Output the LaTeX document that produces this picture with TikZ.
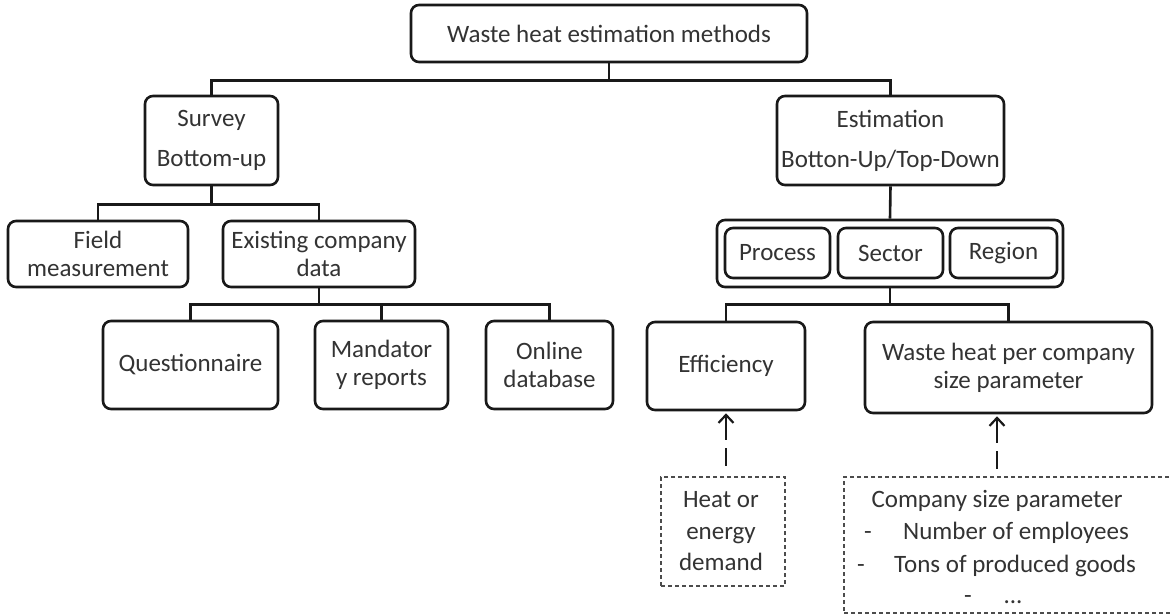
\documentclass[tikz,border=0pt]{standalone}
\usepackage{fontspec}
\setmainfont{Carlito}
\usetikzlibrary{arrows.meta}
\begin{document}
\begin{tikzpicture}[x=1pt,y=-1pt,
  box/.style={draw=black!90, line width=2.6pt, rounded corners=8pt, align=center,
    inner sep=0pt, text=black!80, font=\fontsize{25}{28}\selectfont},
  tallbox/.style={box, font=\fontsize{25}{40}\selectfont},
  conn/.style={draw=black!90, line width=2.6pt},
  note/.style={draw=black!70, line width=1.1pt, dash pattern=on 4pt off 3pt},
  notetext/.style={inner sep=0pt, text=black!80, font=\fontsize{25}{32}\selectfont},
  dasharr/.style={draw=black!90, line width=2.2pt,
    dash pattern=on 24pt off 8pt on 18pt off 30pt,
    {Straight Barb[length=8pt,width=15pt,line width=2.2pt]}-}
]
\clip (0,0) rectangle (1171,614);
\fill[white] (0,0) rectangle (1171,614);

% root
\node[box, minimum width=396pt, minimum height=57pt] (root) at (609,33.5) {Waste heat estimation methods};

% second level
\node[tallbox, minimum width=133pt, minimum height=89pt] (survey) at (211.5,140.5) {Survey\\Bottom-up};
\node[tallbox, minimum width=227pt, minimum height=89pt] (est) at (890.5,140.5) {Estimation\\Botton-Up/Top-Down};

% survey branch
\node[box, minimum width=180pt, minimum height=66pt] (field) at (98,254) {Field\\measurement};
\node[box, minimum width=192pt, minimum height=66pt] (exist) at (319,254) {Existing company\\data};
\node[box, minimum width=175pt, minimum height=88pt] (quest) at (190.5,365) {Questionnaire};
\node[box, minimum width=133pt, minimum height=88pt] (mand) at (381.5,365) {Mandator\\y reports};
\node[box, minimum width=127pt, minimum height=88pt] (online) at (549.5,365) {Online\\database};

% estimation branch
\node[box, minimum width=346pt, minimum height=67pt] (levels) at (890,253.5) {};
\node[box, minimum width=105pt, minimum height=50pt] (proc) at (777.5,253) {Process};
\node[box, minimum width=105pt, minimum height=50pt] (sect) at (890.5,253) {Sector};
\node[box, minimum width=107pt, minimum height=50pt] (reg) at (1003.5,253) {Region};
\node[box, minimum width=158pt, minimum height=88pt] (eff) at (726,366) {Efficiency};
\node[box, minimum width=287pt, minimum height=91pt] (wpc) at (1008.5,367.5) {Waste heat per company\\size parameter};

% input notes
\node[note, minimum width=124pt, minimum height=109pt] (heat) at (723,531.5) {};
\node[notetext, anchor=base] (heat1) at (721,507) {Heat or};
\node[notetext, anchor=base] (heat2) at (721,539) {energy};
\node[notetext, anchor=base] (heat3) at (721,570) {demand};

\node[note, minimum width=336pt, minimum height=136pt] (size) at (1012,545) {};
\node[notetext, anchor=base] (size0) at (997,507) {Company size parameter};
\node[notetext, anchor=base] (dash1) at (868,539) {-};
\node[notetext, anchor=base west] (size1) at (903,539) {Number of employees};
\node[notetext, anchor=base] (dash2) at (861,572) {-};
\node[notetext, anchor=base west] (size2) at (894,572) {Tons of produced goods};
\node[notetext, anchor=base] (dash3) at (968,603) {-};
\node[notetext, anchor=base] (size3) at (1013,603) {...};

% tree connectors
\draw[conn] (root.south) -- ++(0,17) -| (survey.north);
\draw[conn] (root.south) -- ++(0,17) -| (est.north);
\draw[conn] (survey.south) -- ++(0,18) -| (field.north);
\draw[conn] (survey.south) -- ++(0,18) -| (exist.north);
\draw[conn] (exist.south) -- ++(0,16) -| (quest.north);
\draw[conn] (exist.south) -- ++(0,16) -| (mand.north);
\draw[conn] (exist.south) -- ++(0,16) -| (online.north);
\draw[conn] (est.south) -- (levels.north);
\draw[conn] (levels.south) -- ++(0,16) -| (eff.north);
\draw[conn] (levels.south) -- ++(0,16) -| (wpc.north);

% dashed input arrows (tip at the upper end)
\draw[dasharr] ([yshift=-2pt]eff.south) -- (eff.south |- heat.north);
\draw[dasharr] ([yshift=-2pt]size0 |- wpc.south) -- (size0 |- size.north);
\end{tikzpicture}
\end{document}
